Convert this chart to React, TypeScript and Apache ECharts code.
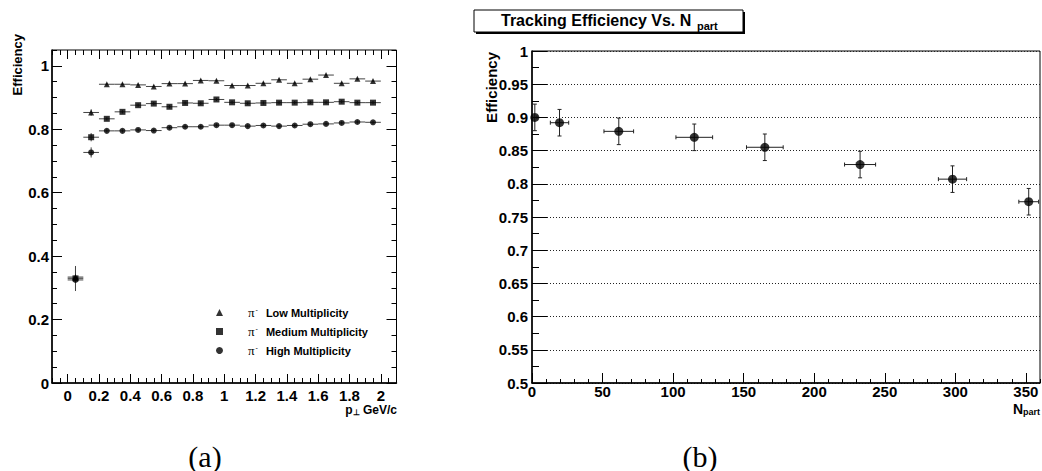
import React, { useEffect, useRef } from 'react';
import * as echarts from 'echarts';

const FONT = '"Liberation Sans", Arial, Helvetica, sans-serif';
const SERIF = '"Liberation Serif", "Times New Roman", serif';

// ---------- panel (a): efficiency vs pT ----------
const ptBins = [0.05, 0.15, 0.25, 0.35, 0.45, 0.55, 0.65, 0.75, 0.85, 0.95, 1.05, 1.15, 1.25, 1.35, 1.45, 1.55, 1.65, 1.75, 1.85, 1.95];
const ptHalfWidth = 0.05;
const effLow = [0.334, 0.853, 0.942, 0.942, 0.940, 0.935, 0.944, 0.944, 0.954, 0.953, 0.938, 0.938, 0.945, 0.956, 0.945, 0.958, 0.971, 0.945, 0.959, 0.952];
const effMed = [0.330, 0.775, 0.833, 0.855, 0.876, 0.881, 0.871, 0.883, 0.882, 0.894, 0.885, 0.882, 0.883, 0.884, 0.884, 0.885, 0.885, 0.887, 0.884, 0.884];
const effHigh = [0.325, 0.727, 0.795, 0.795, 0.798, 0.796, 0.805, 0.808, 0.808, 0.813, 0.813, 0.810, 0.812, 0.810, 0.812, 0.816, 0.817, 0.820, 0.823, 0.822];
const errLow = [0.035, 0.010, 0.004, 0.004, 0.004, 0.004, 0.004, 0.004, 0.004, 0.004, 0.004, 0.004, 0.004, 0.004, 0.004, 0.004, 0.004, 0.004, 0.004, 0.004];
const errMed = [0.035, 0.013, 0.005, 0.005, 0.005, 0.005, 0.005, 0.005, 0.005, 0.005, 0.005, 0.005, 0.005, 0.005, 0.005, 0.005, 0.005, 0.005, 0.005, 0.005];
const errHigh = [0.035, 0.016, 0.005, 0.005, 0.005, 0.005, 0.005, 0.005, 0.005, 0.005, 0.005, 0.005, 0.005, 0.005, 0.005, 0.005, 0.005, 0.005, 0.005, 0.005];
const seriesNames = ['π⁻ Low Multiplicity', 'π⁻ Medium Multiplicity', 'π⁻ High Multiplicity'];

const ptTickLabels = [0, 0.2, 0.4, 0.6, 0.8, 1, 1.2, 1.4, 1.6, 1.8, 2];
const effTickLabels = [0, 0.2, 0.4, 0.6, 0.8, 1];

// ---------- panel (b): efficiency vs Npart ----------
const nPart = [2, 19.5, 61.5, 115, 165, 232.5, 298, 352];
const nPartErr = [1.5, 6.5, 10.5, 13, 13, 11, 10, 7];
const effCent = [0.900, 0.892, 0.879, 0.870, 0.855, 0.829, 0.807, 0.773];
const effCentErr = [0.02, 0.02, 0.02, 0.02, 0.02, 0.02, 0.02, 0.02];
const nPartTickLabels = [0, 50, 100, 150, 200, 250, 300, 350];

function minorTicks(lo: number, hi: number, step: number, majors: number[]) {
  const out: number[] = [];
  const n = Math.round((hi - lo) / step);
  for (let i = 0; i <= n; i++) {
    const v = Math.round((lo + i * step) * 1000) / 1000;
    if (!majors.some((m) => Math.abs(m - v) < 1e-6)) out.push(v);
  }
  return out;
}

const ptMinor = minorTicks(-0.1, 2.1, 0.05, ptTickLabels);
const effMinor = minorTicks(0, 1.05, 0.05, effTickLabels);
const nPartMinor = minorTicks(0, 360, 10, nPartTickLabels);
const effCentMinor = minorTicks(0.525, 0.975, 0.05, []);

const labelFont = { fontSize: 15, fontWeight: 'bold' as const, fontFamily: FONT, color: '#000' };

function tickAxis(o: any) {
  const { gridIndex, min, max, position, ticks, len, labels, margin, line, interval, split } = o;
  const ax: any = {
    type: 'value',
    gridIndex,
    min,
    max,
    position,
    axisLine: { show: !!line, onZero: false, lineStyle: { color: '#000', width: 1.5 } },
    axisTick: { show: true, inside: true, length: len, lineStyle: { color: '#000', width: 1 } },
    axisLabel: labels ? { show: true, margin, ...labelFont } : { show: false },
    splitLine: split ? { show: true, lineStyle: { color: '#222', width: 1, type: [1, 2] } } : { show: false },
  };
  if (interval !== undefined) ax.interval = interval;
  if (ticks) ax.axisTick.customValues = ticks;
  if (labels && ticks) ax.axisLabel.customValues = ticks;
  return ax;
}

function errorBars(xs: number[], ys: number[], ex: number[], ey: number[], caps: number, xi: number, yi: number, color: string) {
  return {
    type: 'custom',
    xAxisIndex: xi,
    yAxisIndex: yi,
    silent: true,
    z: 2,
    data: xs.map((x, i) => [x, ys[i], ex[i], ey[i]]),
    renderItem: (_p: any, api: any) => {
      const x = api.value(0), y = api.value(1), dx = api.value(2), dy = api.value(3);
      const l = api.coord([x - dx, y]);
      const r = api.coord([x + dx, y]);
      const t = api.coord([x, y + dy]);
      const b = api.coord([x, y - dy]);
      const st = { stroke: color, lineWidth: 1 };
      const children: any[] = [
        { type: 'line', shape: { x1: l[0], y1: l[1], x2: r[0], y2: r[1] }, style: st },
        { type: 'line', shape: { x1: t[0], y1: t[1], x2: b[0], y2: b[1] }, style: st },
      ];
      if (caps > 0) {
        children.push(
          { type: 'line', shape: { x1: l[0], y1: l[1] - caps, x2: l[0], y2: l[1] + caps }, style: st },
          { type: 'line', shape: { x1: r[0], y1: r[1] - caps, x2: r[0], y2: r[1] + caps }, style: st },
          { type: 'line', shape: { x1: t[0] - caps, y1: t[1], x2: t[0] + caps, y2: t[1] }, style: st },
          { type: 'line', shape: { x1: b[0] - caps, y1: b[1], x2: b[0] + caps, y2: b[1] }, style: st },
        );
      }
      return { type: 'group', children };
    },
  };
}

function buildOption(): any {
  const ptHalf = ptBins.map(() => ptHalfWidth);
  return {
    animation: false,
    backgroundColor: '#fff',
    title: {
      text: 'Tracking Efficiency Vs. N',
      left: 501,
      top: 12,
      padding: 0,
      textStyle: { fontSize: 16, fontWeight: 'bold', fontFamily: FONT, color: '#000' },
      z: 20,
    },
    legend: {
      data: seriesNames,
      orient: 'vertical',
      left: 211,
      top: 301,
      itemWidth: 7,
      itemHeight: 7,
      itemGap: 6,
      selectedMode: false,
      formatter: (name: string) => `{pi|π}{sup|-}{t|${name.replace('π⁻ ', '')}}`,
      textStyle: {
        color: '#000',
        padding: [0, 0, 0, 20],
        rich: {
          pi: { fontFamily: SERIF, fontSize: 13, color: '#000' },
          sup: { fontFamily: FONT, fontSize: 7, verticalAlign: 'top', padding: [0, 8, 0, 1], color: '#000' },
          t: { fontFamily: FONT, fontSize: 11, fontWeight: 'bold', color: '#000' },
        },
      },
    },
    grid: [
      { left: 52, top: 50, width: 344.5, height: 333, show: true, borderColor: '#000', borderWidth: 1, backgroundColor: 'transparent' },
      { left: 532, top: 51, width: 508, height: 332, show: true, borderColor: '#000', borderWidth: 1, backgroundColor: 'transparent' },
    ],
    xAxis: [
      tickAxis({ gridIndex: 0, min: -0.1, max: 2.1, position: 'bottom', ticks: ptTickLabels, len: 9, labels: true, margin: 5, line: true }),
      tickAxis({ gridIndex: 0, min: -0.1, max: 2.1, position: 'bottom', ticks: ptMinor, len: 5 }),
      tickAxis({ gridIndex: 0, min: -0.1, max: 2.1, position: 'top', ticks: ptTickLabels, len: 9 }),
      tickAxis({ gridIndex: 0, min: -0.1, max: 2.1, position: 'top', ticks: ptMinor, len: 5 }),
      tickAxis({ gridIndex: 1, min: 0, max: 360, position: 'bottom', ticks: nPartTickLabels, len: 10, labels: true, margin: 1, line: true }),
      tickAxis({ gridIndex: 1, min: 0, max: 360, position: 'bottom', ticks: nPartMinor, len: 4 }),
    ],
    yAxis: [
      tickAxis({ gridIndex: 0, min: 0, max: 1.05, position: 'left', ticks: effTickLabels, len: 10, labels: true, margin: 3, line: true }),
      tickAxis({ gridIndex: 0, min: 0, max: 1.05, position: 'left', ticks: effMinor, len: 5 }),
      tickAxis({ gridIndex: 0, min: 0, max: 1.05, position: 'right', ticks: effTickLabels, len: 10 }),
      tickAxis({ gridIndex: 0, min: 0, max: 1.05, position: 'right', ticks: effMinor, len: 5 }),
      tickAxis({ gridIndex: 1, min: 0.5, max: 1, interval: 0.05, position: 'left', len: 15, labels: true, margin: 4, line: true, split: true }),
      tickAxis({ gridIndex: 1, min: 0.5, max: 1, position: 'left', ticks: effCentMinor, len: 7 }),
    ],
    series: [
      errorBars(ptBins, effHigh, ptHalf, errHigh, 0, 0, 0, '#444'),
      errorBars(ptBins, effLow, ptHalf, errLow, 0, 0, 0, '#444'),
      errorBars(ptBins, effMed, ptHalf, errMed, 0, 0, 0, '#444'),
      {
        type: 'scatter', name: seriesNames[2], xAxisIndex: 0, yAxisIndex: 0, symbol: 'circle', symbolSize: 6,
        itemStyle: { color: '#000' }, z: 3, data: ptBins.map((x, i) => [x, effHigh[i]]),
      },
      {
        type: 'scatter', name: seriesNames[0], xAxisIndex: 0, yAxisIndex: 0, symbol: 'triangle', symbolSize: 6,
        itemStyle: { color: '#000' }, z: 3, data: ptBins.map((x, i) => [x, effLow[i]]),
      },
      {
        type: 'scatter', name: seriesNames[1], xAxisIndex: 0, yAxisIndex: 0, symbol: 'rect', symbolSize: 6,
        itemStyle: { color: '#000' }, z: 3, data: ptBins.map((x, i) => [x, effMed[i]]),
      },
      errorBars(nPart, effCent, nPartErr, effCentErr, 2, 4, 4, '#222'),
      {
        type: 'scatter', name: 'Efficiency vs Npart', xAxisIndex: 4, yAxisIndex: 4, symbol: 'circle', symbolSize: 9,
        itemStyle: { color: '#000' }, z: 3, data: nPart.map((x, i) => [x, effCent[i]]),
      },
    ],
    graphic: [
      { type: 'rect', z: 1, shape: { x: 476, y: 12, width: 269, height: 22 }, style: { fill: '#000' } },
      { type: 'rect', z: 2, shape: { x: 474, y: 10, width: 269, height: 22 }, style: { fill: '#fff', stroke: '#000', lineWidth: 1 } },
      { type: 'text', z: 30, x: 697, y: 31, style: { text: 'part', fontSize: 11, fontWeight: 'bold', fontFamily: FONT, fill: '#000', align: 'left', verticalAlign: 'bottom' } },
      { type: 'text', z: 30, x: 17.5, y: 34, rotation: Math.PI / 2, style: { text: 'Efficiency', fontSize: 13, fontWeight: 'bold', fontFamily: FONT, fill: '#000', align: 'right', verticalAlign: 'middle' } },
      { type: 'text', z: 30, x: 491, y: 52, rotation: Math.PI / 2, style: { text: 'Efficiency', fontSize: 15, fontWeight: 'bold', fontFamily: FONT, fill: '#000', align: 'right', verticalAlign: 'middle' } },
      {
        type: 'text', z: 30, x: 397, y: 416,
        style: {
          text: '{a|p}{b|⊥}{a| GeV/c}', align: 'right', verticalAlign: 'bottom', fill: '#000',
          rich: {
            a: { fontSize: 12, fontWeight: 'bold', fontFamily: FONT, fill: '#000' },
            b: { fontSize: 8, fontWeight: 'bold', fontFamily: FONT, fill: '#000', verticalAlign: 'bottom' },
          },
        },
      },
      {
        type: 'text', z: 30, x: 1040, y: 416,
        style: {
          text: '{a|N}{b|part}', align: 'right', verticalAlign: 'bottom', fill: '#000',
          rich: {
            a: { fontSize: 14, fontWeight: 'bold', fontFamily: FONT, fill: '#000' },
            b: { fontSize: 9, fontWeight: 'bold', fontFamily: FONT, fill: '#000', verticalAlign: 'bottom' },
          },
        },
      },
      { type: 'text', z: 30, x: 205, y: 456, style: { text: '(a)', fontSize: 30, fontFamily: SERIF, fill: '#000', align: 'center', verticalAlign: 'middle' } },
      { type: 'text', z: 30, x: 700, y: 456, style: { text: '(b)', fontSize: 30, fontFamily: SERIF, fill: '#000', align: 'center', verticalAlign: 'middle' } },
    ],
  };
}

export default function App() {
  const ref = useRef<HTMLDivElement>(null);
  useEffect(() => {
    if (!ref.current) return;
    const chart = echarts.init(ref.current, null, { renderer: 'svg' });
    chart.setOption(buildOption());
    return () => chart.dispose();
  }, []);
  return (
    <div
      ref={ref}
      style={{ position: 'absolute', left: 0, top: 0, width: 1042, height: 471, background: '#fff' }}
    />
  );
}
